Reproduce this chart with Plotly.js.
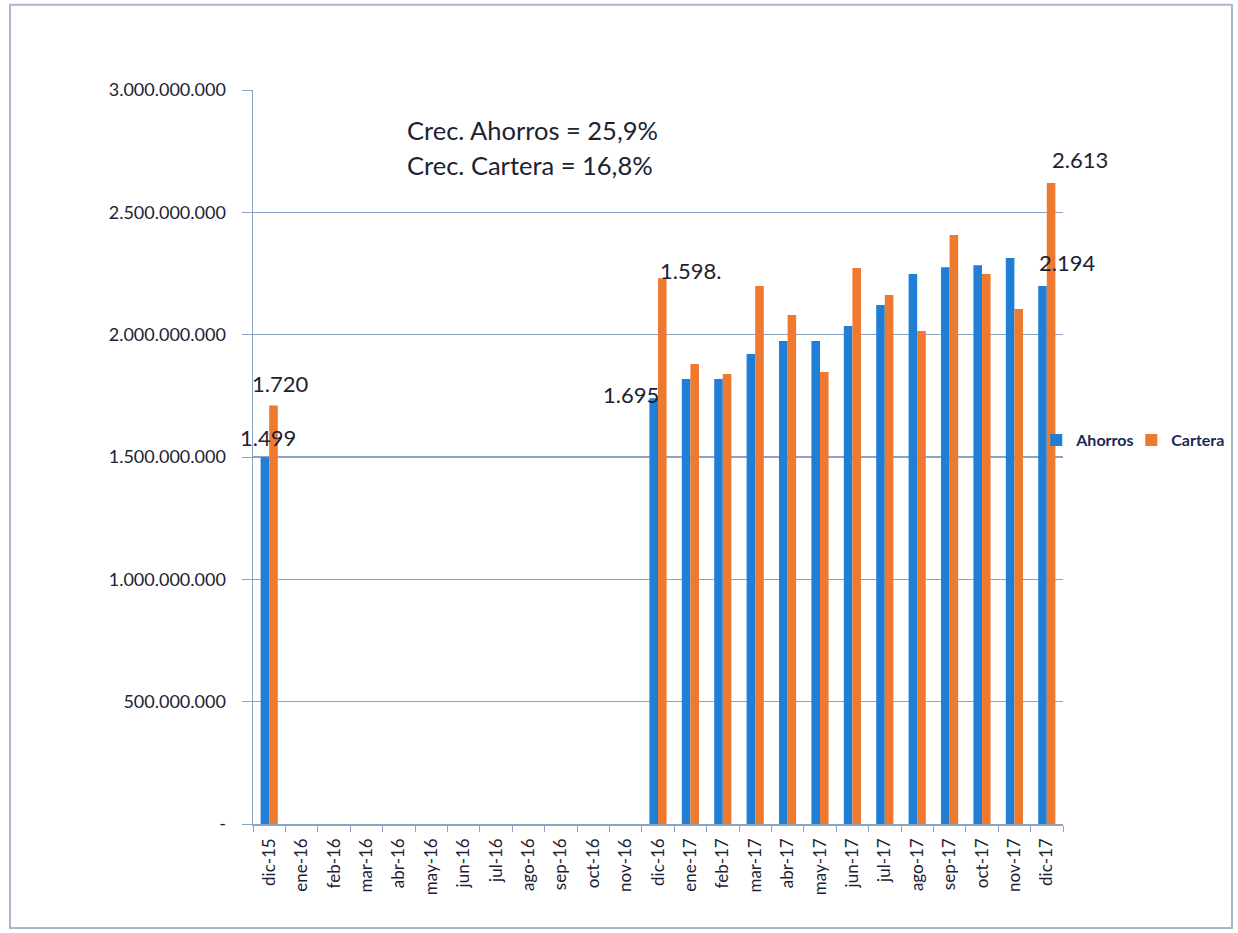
<!DOCTYPE html>
<html>
<head>
<meta charset="utf-8">
<script src="https://cdn.plot.ly/plotly-3.0.1.min.js"></script>
<style>html,body{margin:0;padding:0;background:#fff;}#chart{width:1238px;height:933px;}</style>
</head>
<body>
<div id="chart"></div>
<script>
const months = ["dic-15","ene-16","feb-16","mar-16","abr-16","may-16","jun-16","jul-16","ago-16","sep-16","oct-16","nov-16",
  "dic-16","ene-17","feb-17","mar-17","abr-17","may-17","jun-17","jul-17","ago-17","sep-17","oct-17","nov-17","dic-17"];
const ahorros = [1499000000,null,null,null,null,null,null,null,null,null,null,null,
  1740000000,1819000000,1819000000,1921000000,1974000000,1974000000,2035000000,2121000000,2248000000,2276000000,2284000000,2313000000,2199000000];
const cartera = [1710000000,null,null,null,null,null,null,null,null,null,null,null,
  2231000000,1880000000,1839000000,2199000000,2080000000,1847000000,2272000000,2162000000,2015000000,2407000000,2248000000,2105000000,2620000000];
const yTickVals = [0,500000000,1000000000,1500000000,2000000000,2500000000,3000000000];
const yTickText = ["-","500.000.000","1.000.000.000","1.500.000.000","2.000.000.000","2.500.000.000","3.000.000.000"];
const growthLines = ["Crec. Ahorros = 25,9%","Crec. Cartera = 16,8%"];
const valueLabels = [
  {x:"dic-15", y:1710000000, text:"1.720", dx:11, dy:22},
  {x:"dic-15", y:1499000000, text:"1.499", dx:-1, dy:20},
  {x:"dic-16", y:1740000000, text:"1.695", dx:-27, dy:4},
  {x:"dic-16", y:2231000000, text:"1.598.", dx:32, dy:8},
  {x:"dic-17", y:2199000000, text:"2.194", dx:20, dy:23},
  {x:"dic-17", y:2620000000, text:"2.613", dx:33, dy:23}
];

const FONT = "Lato, 'Open Sans', sans-serif";
const axisCol = "#8ea3c4";
const txtCol = "#1c2233";

const traces = [
  {type:"bar", name:"Ahorros", x:months, y:ahorros, marker:{color:"#1f7ed6"}},
  {type:"bar", name:"Cartera", x:months, y:cartera, marker:{color:"#ee7a2f"}}
];

const annotations = [
  {xref:"paper", yref:"paper", x:0.1877, y:0.9455, xanchor:"left", yanchor:"middle", showarrow:false,
   text:growthLines[0], font:{family:FONT, size:25.5, color:txtCol}},
  {xref:"paper", yref:"paper", x:0.1877, y:0.8978, xanchor:"left", yanchor:"middle", showarrow:false,
   text:growthLines[1], font:{family:FONT, size:25.5, color:txtCol}}
].concat(valueLabels.map(v => ({
  xref:"x", yref:"y", x:v.x, y:v.y, text:v.text, showarrow:false, xshift:v.dx, yshift:v.dy,
  font:{family:FONT, size:22, color:txtCol}
})));

const layout = {
  width:1238, height:933,
  margin:{l:253, r:175, t:90, b:109},
  paper_bgcolor:"#ffffff", plot_bgcolor:"#ffffff",
  barmode:"group", bargap:0.47, bargroupgap:0,
  font:{family:FONT, color:txtCol},
  xaxis:{type:"category", range:[-0.5, 24.5], autorange:false, tickangle:-90,
    tickfont:{family:FONT, size:17, color:txtCol},
    showline:true, linecolor:axisCol, linewidth:1.5, ticks:"outside", tickson:"boundaries",
    ticklen:6, tickcolor:axisCol, showgrid:false, fixedrange:true, ticklabelstandoff:6},
  yaxis:{range:[0,3000000000], autorange:false, tickvals:yTickVals, ticktext:yTickText,
    tickfont:{family:FONT, size:18, color:txtCol}, showline:true, linecolor:axisCol, linewidth:1.5,
    ticks:"outside", ticklen:10, tickcolor:axisCol, gridcolor:axisCol, gridwidth:1.3,
    zeroline:false, ticklabelstandoff:12},
  showlegend:true,
  legend:{orientation:"h", x:0.967, y:0.523, xanchor:"left", yanchor:"middle",
    font:{family:FONT, size:16, color:"#1a2a55", weight:"bold"}, itemwidth:30, tracegroupgap:0,
    entrywidth:50, entrywidthmode:"pixels", bgcolor:"rgba(0,0,0,0)"},
  annotations:annotations,
  shapes:[{type:"rect", xref:"paper", yref:"paper", x0:-0.300, x1:1.2086, y0:-0.1417, y1:1.116,
    line:{color:"#aab6cc", width:2}, fillcolor:"rgba(0,0,0,0)"}]
};

Plotly.newPlot("chart", traces, layout, {displayModeBar:false, staticPlot:true});
</script>
</body>
</html>
